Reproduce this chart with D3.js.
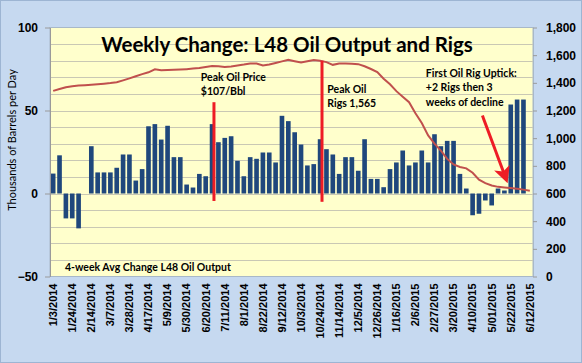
<!DOCTYPE html>
<html>
<head>
<meta charset="utf-8">
<script src="https://cdn.jsdelivr.net/npm/d3@7"></script>
<style>
  body { margin: 0; background: #c6d9f0; }
  svg { display: block; font-family: Lato, "Open Sans", sans-serif; }
</style>
</head>
<body>
<svg></svg>
<script>
var width = 582;
var height = 363;
var plot = { left: 50, right: 533, top: 27.5, bottom: 276.5 };

// one value per week, 1/3/2014 .. 6/12/2015
var weekIndex = d3.range(76);
var tickLabels = ["1/3/2014", "1/24/2014", "2/14/2014", "3/7/2014", "3/28/2014", "4/17/2014",
  "5/9/2014", "5/30/2014", "6/20/2014", "7/11/2014", "8/1/2014", "8/22/2014", "9/12/2014",
  "10/3/2014", "10/24/2014", "11/14/2014", "12/5/2014", "12/26/2014", "1/16/2015", "2/6/2015",
  "2/27/2015", "3/20/2015", "4/10/2015", "5/01/2015", "5/22/2015", "6/12/2015"];

// 4-week avg change in L48 oil output, thousand b/d
var outputChange = [12, 23, -15, -15, -21, 0, 28.5, 12.7, 12.7, 12.7,
  15.5, 23.5, 23.5, 7.8, 14.7, 40.5, 41.8, 32.5, 40.8, 21.9,
  21.9, 5.4, 3.6, 11.8, 10.4, 41.8, 30.9, 33.5, 34.5, 19.7,
  10.4, 21.9, 20.9, 24.7, 24.7, 18.7, 46.8, 43.6, 36.9, 29.5,
  16.9, 17.7, 32.7, 26.7, 23.5, 11.8, 21.9, 21.9, 13.7, 32.7,
  8.8, 8.8, 3.8, 14.7, 18.7, 25.9, 16.9, 18.7, 25.9, 18.7,
  35.7, 28.5, 31.7, 31.7, 11.8, 3.0, -13.1, -12.2, -4.2, -7.2,
  3.0, 1.8, 53.6, 56.6, 56.6, 0];

// oil rig count (right axis)
var oilRigs = [1342, 1355, 1368, 1376, 1380, 1383, 1386, 1390, 1394, 1398,
  1404, 1418, 1432, 1448, 1463, 1476, 1498, 1491, 1492, 1494,
  1496, 1499, 1503, 1508, 1515, 1522, 1520, 1514, 1518, 1526,
  1532, 1540, 1540, 1526, 1532, 1544, 1555, 1566, 1556, 1547,
  1556, 1565, 1560, 1550, 1530, 1540, 1540, 1538, 1535, 1520,
  1500, 1478, 1430, 1390, 1340, 1300, 1260, 1180, 1110, 1020,
  960, 910, 850, 810, 792, 782, 750, 700, 675, 658,
  648, 644, 640, 635, 628, 620];

var svg = d3.select("svg")
    .attr("width", width)
    .attr("height", height);

var x = d3.scaleBand()
    .domain(weekIndex)
    .range([plot.left, plot.right])
    .paddingInner(0.27)
    .paddingOuter(0.135);

var yLeft = d3.scaleLinear()
    .domain([-50, 100])
    .range([plot.bottom, plot.top]);

var yRight = d3.scaleLinear()
    .domain([0, 1800])
    .range([plot.bottom, plot.top]);

var cx = i => x(i) + x.bandwidth() / 2;
var weekX = w => x(0) + w * x.step();

// outer frame
svg.append("rect")
    .attr("x", 0.5)
    .attr("y", 0.5)
    .attr("width", width - 1)
    .attr("height", height - 1)
    .attr("fill", "none")
    .attr("stroke", "#9db5d3");

// plot area
svg.append("rect")
    .attr("x", plot.left)
    .attr("y", plot.top)
    .attr("width", plot.right - plot.left)
    .attr("height", plot.bottom - plot.top)
    .attr("fill", "#ffffcc")
    .attr("stroke", "#a8b8c8");

svg.append("g")
  .selectAll("line")
  .data(d3.range(-40, 100, 10))
  .enter().append("line")
    .attr("x1", plot.left)
    .attr("x2", plot.right)
    .attr("y1", d => Math.round(yLeft(d)) + 0.5)
    .attr("y2", d => Math.round(yLeft(d)) + 0.5)
    .attr("stroke", "#c9c8b4");

// bars
svg.append("g")
  .selectAll("rect")
  .data(outputChange)
  .enter().append("rect")
    .attr("x", (d, i) => x(i))
    .attr("y", d => yLeft(Math.max(0, d)))
    .attr("width", x.bandwidth())
    .attr("height", d => Math.abs(yLeft(d) - yLeft(0)))
    .attr("fill", "#1f477c");

// rig line
svg.append("path")
    .datum(oilRigs)
    .attr("fill", "none")
    .attr("stroke", "#c0504d")
    .attr("stroke-width", 2)
    .attr("d", d3.line().x((d, i) => cx(i)).y(d => yRight(d)));

// axes
var leftAxis = svg.append("g")
    .attr("transform", "translate(" + plot.left + ",0)")
    .call(d3.axisLeft(yLeft).tickValues([-50, 0, 50, 100]).tickSize(5).tickSizeOuter(0).tickPadding(7));

var rightAxis = svg.append("g")
    .attr("transform", "translate(" + plot.right + ",0)")
    .call(d3.axisRight(yRight).tickValues(d3.range(0, 1801, 200)).tickFormat(d3.format(","))
      .tickSize(4).tickSizeOuter(0).tickPadding(9));

[leftAxis, rightAxis].forEach(function(g) {
  g.select(".domain").attr("stroke", "#9a9a9a");
  g.selectAll(".tick line").attr("stroke", "#9a9a9a");
  g.selectAll("text")
      .attr("fill", "#000")
      .style("font-size", "12px")
      .style("font-weight", "bold");
});
rightAxis.select(".domain").attr("stroke", "#a8b8c8");

svg.append("g")
    .attr("transform", "translate(0," + plot.bottom + ")")
    .call(d3.axisBottom(x)
      .tickValues(weekIndex.filter(i => i % 3 === 0))
      .tickFormat(i => tickLabels[i / 3])
      .tickSize(0))
    .call(g => g.select(".domain").remove())
  .selectAll("text")
    .attr("transform", "rotate(-90)")
    .attr("x", -7)
    .attr("y", 0)
    .attr("dy", "0.35em")
    .style("text-anchor", "end")
    .style("font-size", "11px")
    .style("font-weight", "bold")
    .attr("fill", "#000");

// titles
svg.append("text")
    .attr("x", 287)
    .attr("y", 52)
    .style("text-anchor", "middle")
    .style("font-size", "20.5px")
    .style("font-weight", "bold")
    .text("Weekly Change: L48 Oil Output and Rigs");

svg.append("text")
    .attr("transform", "rotate(-90)")
    .attr("x", -140)
    .attr("y", 16)
    .style("text-anchor", "middle")
    .style("font-size", "11px")
    .text("Thousands of Barrels per Day");

svg.append("text")
    .attr("x", 65)
    .attr("y", 271)
    .style("font-size", "10.5px")
    .style("font-weight", "bold")
    .text("4-week Avg Change L48 Oil Output");

// annotations
var markers = [
  { week: 25.3, from: 55, to: -4.5 },
  { week: 42.3, from: 80, to: -5 }
];
svg.append("g")
  .selectAll("line")
  .data(markers)
  .enter().append("line")
    .attr("x1", d => weekX(d.week) + x.bandwidth() / 2)
    .attr("x2", d => weekX(d.week) + x.bandwidth() / 2)
    .attr("y1", d => yLeft(d.from))
    .attr("y2", d => yLeft(d.to))
    .attr("stroke", "#ee1c25")
    .attr("stroke-width", 3);

var notes = [
  { week: 23.6, value: 68, lines: ["Peak Oil Price", "$107/Bbl"] },
  { week: 43.5, value: 60.5, lines: ["Peak Oil", "Rigs 1,565"] },
  { week: 59, value: 70, lines: ["First Oil Rig Uptick:", "+2 Rigs then 3", "weeks of decline"] }
];
notes.forEach(function(n) {
  var t = svg.append("text")
      .attr("x", weekX(n.week))
      .attr("y", yLeft(n.value))
      .style("font-size", "10.5px")
      .style("font-weight", "bold");
  t.selectAll("tspan")
    .data(n.lines)
    .enter().append("tspan")
      .attr("x", weekX(n.week))
      .attr("dy", (d, i) => i === 0 ? 0 : "1.35em")
      .text(d => d);
});

svg.append("defs").append("marker")
    .attr("id", "head")
    .attr("viewBox", "0 0 10 10")
    .attr("refX", 7)
    .attr("refY", 5)
    .attr("markerWidth", 5.5)
    .attr("markerHeight", 5.5)
    .attr("orient", "auto")
  .append("path")
    .attr("d", "M0,0L10,5L0,10L2.5,5z")
    .attr("fill", "#ee1c25");

svg.append("line")
    .attr("x1", weekX(67.9))
    .attr("y1", yLeft(47))
    .attr("x2", weekX(71.6))
    .attr("y2", yLeft(9))
    .attr("stroke", "#ee1c25")
    .attr("stroke-width", 3)
    .attr("marker-end", "url(#head)");
</script>
</body>
</html>
